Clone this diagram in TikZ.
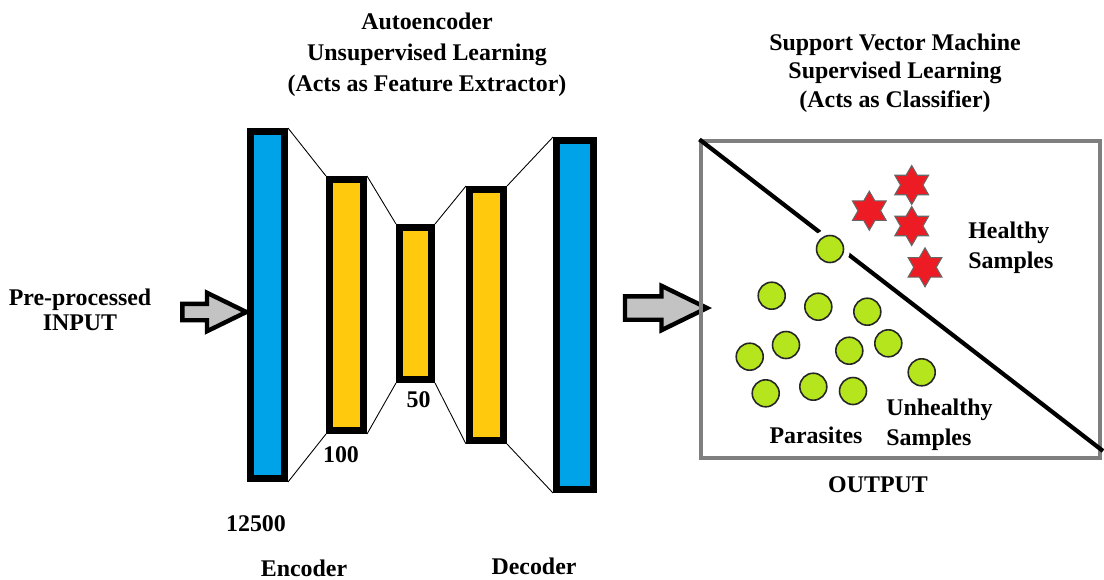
\documentclass[tikz,border=0pt]{standalone}
\usepackage{fontspec}
\setmainfont{Liberation Serif}
\usetikzlibrary{shapes.geometric,shapes.arrows}

\definecolor{aeblue}{HTML}{00A2E8}
\definecolor{aegold}{HTML}{FFC90E}
\definecolor{svmgreen}{HTML}{B5E61D}
\definecolor{starred}{HTML}{ED1C24}
\definecolor{arrowgray}{HTML}{C3C3C3}
\definecolor{boxgray}{HTML}{7F7F7F}

\begin{document}
\begin{tikzpicture}[x=0.02cm,y=-0.02cm,
        every node/.style={font=\fontsize{13.6}{16}\selectfont\bfseries},
        blue layer/.style={draw=black,fill=aeblue,line width=4pt,inner sep=0pt,minimum width=0.68cm},
        gold layer/.style={draw=black,fill=aegold,line width=4pt,inner sep=0pt,minimum width=0.68cm},
        link/.style={black,line width=0.5pt},
        block arrow/.style={single arrow,draw=black,fill=arrowgray,line width=2.5pt,
            single arrow tip angle=52,inner xsep=0pt},
        healthy/.style={star,star points=6,star point ratio=1.73,draw=black!60,fill=starred,
            line width=0.6pt,minimum size=0.78cm,inner sep=0pt},
        unhealthy/.style={circle,draw=black!85,fill=svmgreen,line width=0.9pt,
            minimum size=0.54cm,inner sep=0pt},
        caption/.style={align=center}]

        \useasboundingbox (0,0) rectangle (1104,579);

        % titles
        \node[caption,font=\fontsize{13.6}{17.6}\selectfont\bfseries] (aetitle) at (427,55)
            {Autoencoder\\Unsupervised Learning\\(Acts as Feature Extractor)};
        \node[caption,font=\fontsize{13.6}{16.2}\selectfont\bfseries] (svmtitle) at (895,73)
            {Support Vector Machine\\Supervised Learning\\(Acts as Classifier)};
        \node[caption,font=\fontsize{13.6}{14.5}\selectfont\bfseries] (inputlbl) at (80,310)
            {Pre-processed\\INPUT};

        % autoencoder layers
        \node[blue layer,minimum height=6.94cm] (in)  at (267.5,305) {};
        \node[gold layer,minimum height=5.02cm] (e1)  at (346.5,305) {};
        \node[gold layer,minimum height=3.04cm,minimum width=0.64cm] (z) at (415.5,303.5) {};
        \node[gold layer,minimum height=5.02cm] (d1)  at (486.5,315) {};
        \node[blue layer,minimum height=6.98cm,minimum width=0.74cm] (out) at (575,315) {};

        \path[link]
            (in.north east) edge (e1.north west)
            (in.south east) edge (e1.south west)
            (e1.north east) edge (z.north west)
            (e1.south east) edge (z.south west)
            (z.north east)  edge (d1.north west)
            (z.south east)  edge (d1.south west)
            (d1.north east) edge (out.north west)
            (d1.south east) edge (out.south west);

        \node (n12500) at (256,524) {12500};
        \node (n100)   at (341,455) {100};
        \node (n50)    at (418.5,400) {50};
        \node (enc)    at (304,568) {Encoder};
        \node (dec)    at (534,566) {Decoder};

        % block arrows
        \node[block arrow,minimum height=1.28cm,inner ysep=0.12cm,
            single arrow head extend=0.22cm] (inarrow) at (206,312) {};
        \node[block arrow,minimum height=1.64cm,inner ysep=0.19cm,
            single arrow head extend=0.21cm] (outarrow) at (654,308) {};

        % svm output
        \node[draw=boxgray,line width=1.8pt,minimum width=7.98cm,minimum height=6.34cm,
            inner sep=0pt] (svm) at (900.5,299.5) {};
        \coordinate (cut) at (1103,451);
        \draw[black,line width=2.4pt] (svm.north west) -- (cut);

        \node[unhealthy,preaction={draw=white,line width=0.26cm}] (p0) at (830,249) {};
        \foreach \px/\py [count=\i] in {771.7/295.7,818.3/306.7,867.3/311.7,786/345,
                749.7/356.7,849.3/350.7,888.3/343.3,921.7/372.3,765.7/393.3,
                813.3/386.7,853/391}
            \node[unhealthy] (p\i) at (\px,\py) {};

        \foreach \sx/\sy [count=\i] in {911.7/185,869.3/210.7,911.7/226,925/267.3}
            \node[healthy] (h\i) at (\sx,\sy) {};

        \node[align=left,anchor=west,inner sep=0pt,font=\fontsize{13.6}{17}\selectfont\bfseries]
            (hlbl) at (968,248) {Healthy\\Samples};
        \node[align=left,anchor=west,inner sep=0pt,font=\fontsize{13.6}{17}\selectfont\bfseries]
            (ulbl) at (886,425) {Unhealthy\\Samples};
        \node (plbl)   at (816,435) {Parasites};
        \node (outlbl) at (878,485) {OUTPUT};
    \end{tikzpicture}
\end{document}
